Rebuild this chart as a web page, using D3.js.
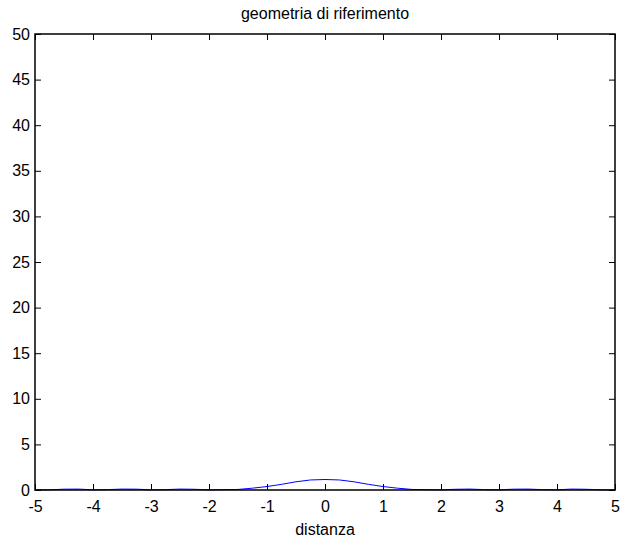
<!DOCTYPE html>
<html>
<head>
<meta charset="utf-8">
<script src="https://cdn.jsdelivr.net/npm/d3@7"></script>
<style>
  body { margin: 0; background: #fff; }
  svg { display: block; font-family: "Liberation Sans", Arial, sans-serif; }
</style>
</head>
<body>
<svg width="622" height="538"></svg>
<script>
// valori
const distanza = [-5, -4.75, -4.5, -4.25, -4, -3.75, -3.5, -3.25, -3, -2.75, -2.5, -2.25, -2, -1.75, -1.5, -1.25, -1, -0.75, -0.5, -0.25,
   0, 0.25, 0.5, 0.75, 1, 1.25, 1.5, 1.75, 2, 2.25, 2.5, 2.75, 3, 3.25, 3.5, 3.75, 4, 4.25, 4.5, 4.75, 5];
const quota = [0.02, 0.02, 0.09, 0.1, 0.02, 0.04, 0.1, 0.09, 0.02, 0.04, 0.1, 0.08, 0.02, 0.04, 0.06, 0.2, 0.38, 0.62, 0.9, 1.1,
   1.15, 1.1, 0.9, 0.62, 0.38, 0.2, 0.06, 0.04, 0.02, 0.08, 0.1, 0.04, 0.02, 0.09, 0.1, 0.04, 0.02, 0.1, 0.08, 0.02, 0.02];
const xTicks = [-5, -4, -3, -2, -1, 0, 1, 2, 3, 4, 5];
const yTicks = [0, 5, 10, 15, 20, 25, 30, 35, 40, 45, 50];

const svg = d3.select("svg");
const area = { left: 35, right: 615, top: 34, bottom: 490 };

const scX = d3.scaleLinear().domain([-5, 5]).range([area.left, area.right]);
const scY = d3.scaleLinear().domain([0, 50]).range([area.bottom, area.top]);

// curva
const data = distanza.map((d, i) => ({ x: d, y: quota[i] }));
svg.append("path")
   .datum(data)
   .attr("d", d3.line().x(d => scX(d.x)).y(d => scY(d.y)))
   .attr("fill", "none")
   .attr("stroke", "#0000ff")
   .attr("stroke-width", 1);

// assi (stile matlab, tacche interne)
const tick = 6;
const fmt = d => String(d);
function styleAxis(g) {
   g.select(".domain").remove();
   g.selectAll("line").attr("stroke", "#000");
   g.selectAll("text").attr("fill", "#000").style("font-size", "16px");
}
svg.append("g")
   .attr("transform", `translate(0, ${area.bottom})`)
   .call(d3.axisBottom(scX).tickValues(xTicks).tickSize(-tick).tickPadding(11).tickFormat(fmt))
   .call(styleAxis);
svg.append("g")
   .attr("transform", `translate(0, ${area.top})`)
   .call(d3.axisTop(scX).tickValues(xTicks).tickSize(-tick).tickFormat(""))
   .call(styleAxis);
svg.append("g")
   .attr("transform", `translate(${area.left}, 0)`)
   .call(d3.axisLeft(scY).tickValues(yTicks).tickSize(-tick).tickPadding(5).tickFormat(fmt))
   .call(styleAxis);
svg.append("g")
   .attr("transform", `translate(${area.right}, 0)`)
   .call(d3.axisRight(scY).tickValues(yTicks).tickSize(-tick).tickFormat(""))
   .call(styleAxis);

svg.append("rect")
   .attr("x", area.left).attr("y", area.top)
   .attr("width", area.right - area.left).attr("height", area.bottom - area.top)
   .attr("fill", "none").attr("stroke", "#000").attr("stroke-width", 1.5);

svg.append("text")
   .attr("x", (area.left + area.right) / 2).attr("y", 19)
   .attr("text-anchor", "middle").style("font-size", "16px")
   .text("geometria di riferimento");
svg.append("text")
   .attr("x", (area.left + area.right) / 2).attr("y", 535)
   .attr("text-anchor", "middle").style("font-size", "16px")
   .text("distanza");
</script>
</body>
</html>
